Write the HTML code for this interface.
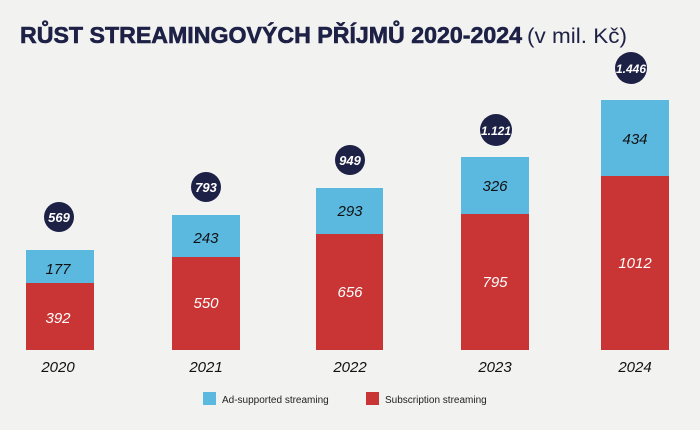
<!DOCTYPE html>
<html><head><meta charset="utf-8"><style>
body{margin:0;width:700px;height:425px;background:#f2f2f0;overflow:hidden;font-family:"Liberation Sans",sans-serif;}
</style></head><body>
<svg width="700" height="425" xmlns="http://www.w3.org/2000/svg">
<rect width="700" height="425" fill="#f2f2f0"/>
<text x="20" y="43" font-size="23" font-weight="bold" fill="#1e2146" stroke="#1e2146" stroke-width="0.6" textLength="502" lengthAdjust="spacingAndGlyphs">RŮST STREAMINGOVÝCH PŘÍJMŮ 2020-2024</text>
<text x="527" y="43" font-size="21" fill="#1e2146" textLength="100" lengthAdjust="spacingAndGlyphs">(v mil. Kč)</text>
<g font-style="italic" font-size="15" text-anchor="middle" font-family="'Liberation Sans Narrow','Liberation Sans',sans-serif">
<rect x="26" y="250" width="68" height="33" fill="#5bb8df"/><rect x="26" y="283" width="68" height="67" fill="#c93434"/>
<text x="58" y="274" fill="#111">177</text><text x="58" y="323" fill="#fff">392</text><text x="58" y="372" fill="#111">2020</text>
<circle cx="59" cy="217" r="15" fill="#1e2146"/><text x="59" y="222" fill="#fff" font-size="13" font-weight="bold">569</text>
<rect x="172" y="215" width="68" height="42" fill="#5bb8df"/><rect x="172" y="257" width="68" height="93" fill="#c93434"/>
<text x="206" y="243" fill="#111">243</text><text x="206" y="308" fill="#fff">550</text><text x="206" y="372" fill="#111">2021</text>
<circle cx="206" cy="187" r="15" fill="#1e2146"/><text x="206" y="192" fill="#fff" font-size="13" font-weight="bold">793</text>
<rect x="316" y="188" width="67" height="46" fill="#5bb8df"/><rect x="316" y="234" width="67" height="116" fill="#c93434"/>
<text x="350" y="216" fill="#111">293</text><text x="350" y="297" fill="#fff">656</text><text x="350" y="372" fill="#111">2022</text>
<circle cx="350" cy="160" r="15" fill="#1e2146"/><text x="350" y="165" fill="#fff" font-size="13" font-weight="bold">949</text>
<rect x="461" y="157" width="68" height="57" fill="#5bb8df"/><rect x="461" y="214" width="68" height="136" fill="#c93434"/>
<text x="495" y="191" fill="#111">326</text><text x="495" y="287" fill="#fff">795</text><text x="495" y="372" fill="#111">2023</text>
<circle cx="496" cy="130" r="16" fill="#1e2146"/><text x="496" y="135" fill="#fff" font-size="12" font-weight="bold">1.121</text>
<rect x="601" y="100" width="68" height="76" fill="#5bb8df"/><rect x="601" y="176" width="68" height="174" fill="#c93434"/>
<text x="635" y="144" fill="#111">434</text><text x="635" y="268" fill="#fff">1012</text><text x="635" y="372" fill="#111">2024</text>
<circle cx="631" cy="68" r="16" fill="#1e2146"/><text x="631" y="73" fill="#fff" font-size="12" font-weight="bold">1.446</text>
</g>
<rect x="203" y="392" width="13" height="13" fill="#5bb8df"/>
<text x="222" y="403" font-size="10" fill="#222">Ad-supported streaming</text>
<rect x="366" y="392" width="13" height="13" fill="#c93434"/>
<text x="385" y="403" font-size="10" fill="#222">Subscription streaming</text>
</svg>
</body></html>
